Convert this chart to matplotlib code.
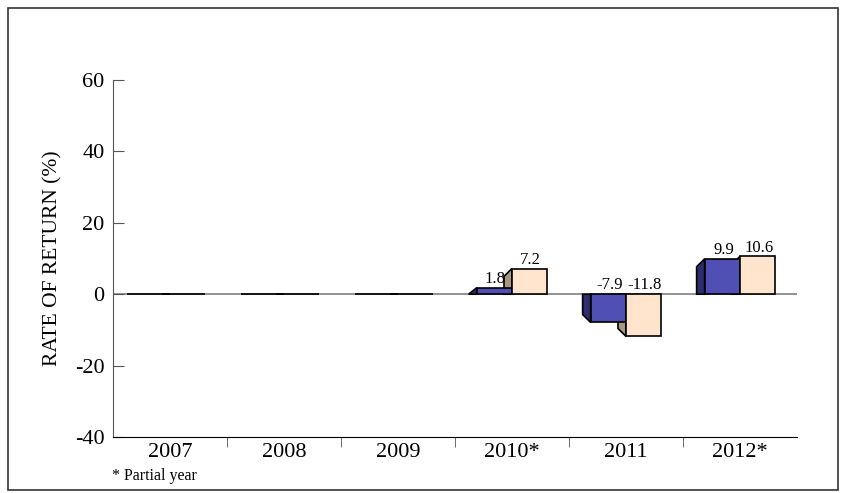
import matplotlib
matplotlib.use("Agg")
import matplotlib.pyplot as plt
from matplotlib.patches import Polygon, Rectangle
import numpy as np

# data
years = ["2007", "2008", "2009", "2010*", "2011", "2012*"]
fund_returns = [0, 0, 0, 1.8, -7.9, 9.9]
bench_returns = [0, 0, 0, 7.2, -11.8, 10.6]

plt.rcParams['font.family'] = ['Liberation Serif', 'DejaVu Serif']
plt.rcParams['axes.unicode_minus'] = False

fig = plt.figure(figsize=(8.46, 4.93), dpi=100)
ax = fig.add_axes([0.1336, 0.1136, 0.8084, 0.7241])

fig.patches.append(Rectangle((8 / 846, 3 / 493), 830 / 846, 482 / 493,
                             transform=fig.transFigure, fill=False,
                             edgecolor='#333333', linewidth=1.2))

x = np.arange(len(years))
w = 0.31
dx = 0.07   # depth of side face (x)
dy = 2.2    # depth of side face (y)

blue = '#5050B4'
blue_side = '#2E2E6E'
peach = '#FFE5CE'
peach_side = '#A8977F'


def side_face(x0, v, color, z):
    if v >= 0:
        far = max(v - dy, 0)
    else:
        far = min(v + dy, 0)
    poly = Polygon([(x0, 0), (x0, v), (x0 - dx, far), (x0 - dx, 0)], closed=True,
                   facecolor=color, edgecolor='black', linewidth=1.2, zorder=z)
    ax.add_patch(poly)


ax.axhline(0, color='#808080', linewidth=1.2, zorder=1)

for i in range(len(years)):
    side_face(x[i], bench_returns[i], peach_side, 2)
    side_face(x[i] - w, fund_returns[i], blue_side, 3)

ax.bar(x - w / 2, fund_returns, width=w, color=blue, edgecolor='black',
       linewidth=1.2, zorder=4)
ax.bar(x + w / 2, bench_returns, width=w, color=peach, edgecolor='black',
       linewidth=1.2, zorder=5)

for i in range(len(years)):
    for v, off in ((fund_returns[i], -w / 2), (bench_returns[i], w / 2)):
        if v == 0:
            continue
        yv = v if v > 0 else 0
        ax.text(x[i] + off + 0.01, yv + 0.2, f"{v:g}", ha='center', va='bottom',
                fontsize=12, zorder=6)

ax.set_xlim(-0.5, len(years) - 0.5)
ax.set_ylim(-40, 60)
ax.set_yticks([-40, -20, 0, 20, 40, 60])
ax.set_xticks(x)
ax.set_xticklabels(years)
ax.set_xticks(np.arange(len(years) - 1) + 0.5, minor=True)
ax.tick_params(axis='x', which='major', length=0, labelsize=16, pad=4)
ax.tick_params(axis='x', which='minor', length=7, color='#555555')
ax.tick_params(axis='y', direction='in', length=8, labelsize=16,
               color='#555555', pad=6)

for s in ('top', 'right'):
    ax.spines[s].set_visible(False)
ax.spines['left'].set_color('#555555')
ax.spines['bottom'].set_color('black')

ax.set_ylabel("RATE OF RETURN (%)", fontsize=15.5, labelpad=9)
fig.text(112 / 846, 1 - 476 / 493, "* Partial year", fontsize=11.5, va='center')

fig.savefig("out.png", dpi=100)
